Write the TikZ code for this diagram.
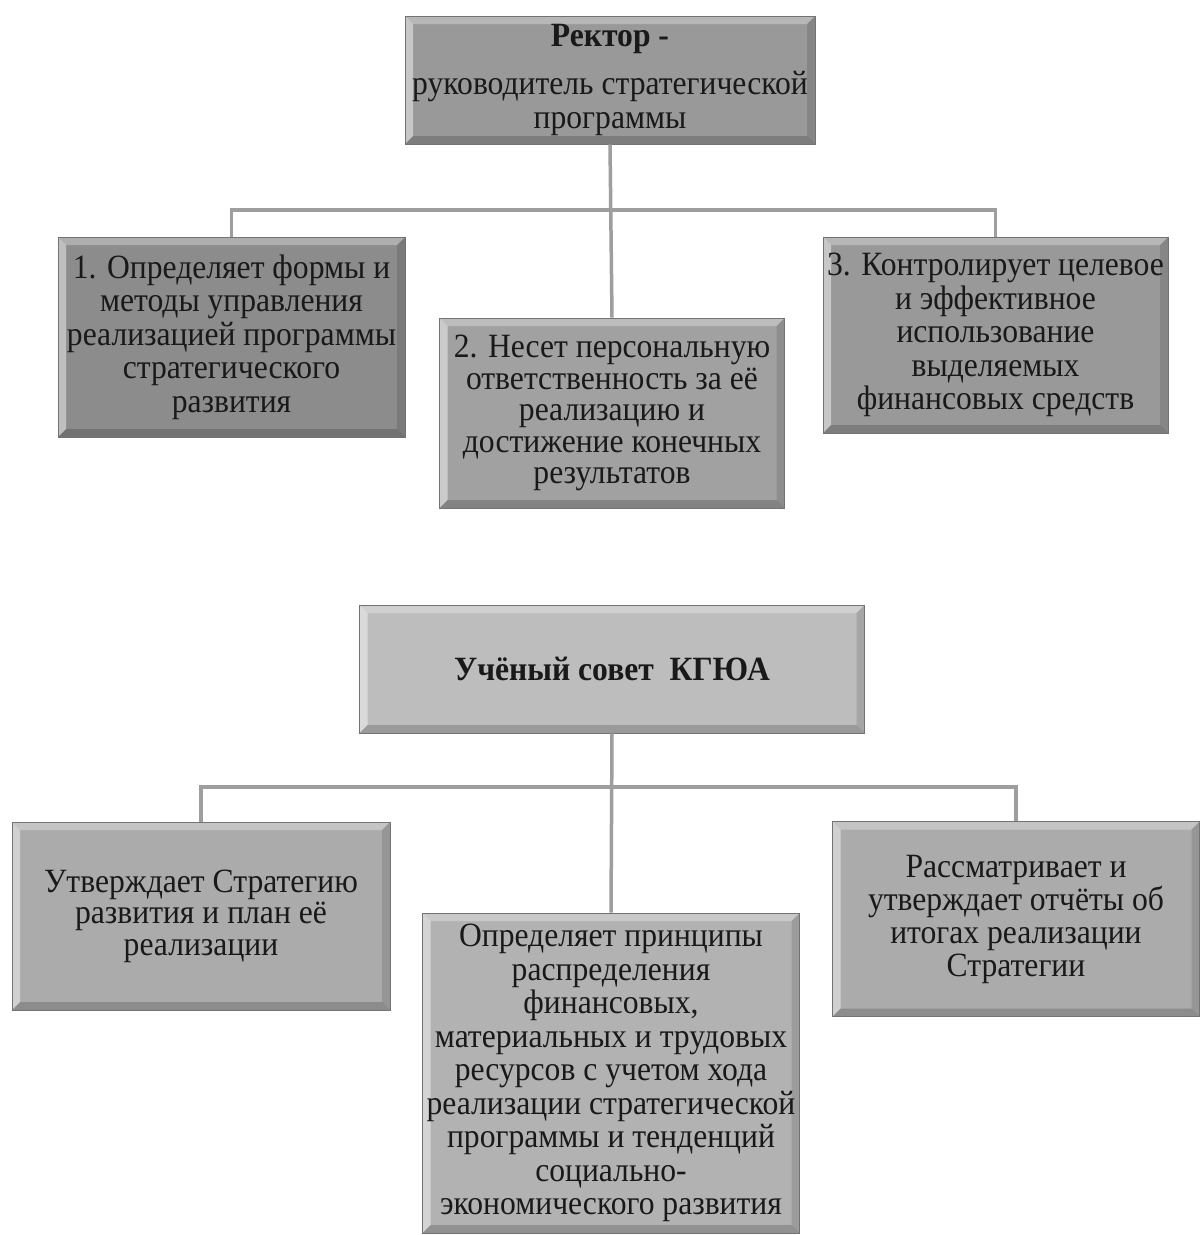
\documentclass[tikz,border=0pt]{standalone}
\usepackage{fontspec}
\setmainfont{Liberation Serif}[FakeStretch=0.93]
\begin{document}
\begin{tikzpicture}[x=1pt,y=-1pt,
  bevel/.style={path picture={
    \coordinate (ppnw) at (path picture bounding box.north west);
    \coordinate (ppne) at (path picture bounding box.north east);
    \coordinate (ppsw) at (path picture bounding box.south west);
    \coordinate (ppse) at (path picture bounding box.south east);
    \fill[white,opacity=.30] (ppnw) -- (ppne) -- ([shift={(-8pt,-8pt)}]ppne) -- ([shift={(8pt,-8pt)}]ppnw) -- cycle;
    \fill[white,opacity=.45] (ppnw) -- ([shift={(8pt,-8pt)}]ppnw) -- ([shift={(8pt,8pt)}]ppsw) -- (ppsw) -- cycle;
    \fill[black,opacity=.18] (ppse) -- (ppsw) -- ([shift={(8pt,8pt)}]ppsw) -- ([shift={(-8pt,8pt)}]ppse) -- cycle;
    \fill[black,opacity=.12] (ppne) -- (ppse) -- ([shift={(-8pt,8pt)}]ppse) -- ([shift={(-8pt,-8pt)}]ppne) -- cycle;
  }},
  box/.style={draw=black!55, line width=0.8pt, bevel, rectangle, inner sep=0pt,
    align=center, text=black!90, font=\fontsize{34}{33.5}\selectfont},
  link/.style={draw=black!38, line width=3.5pt}
]
\useasboundingbox[fill=white] (0,0) rectangle (1200,1235);

% top group
\node[box, fill=black!40, minimum width=410, minimum height=128, font=\fontsize{34}{34}\selectfont] (rector) at (610,80)
  {{\bfseries Ректор -}\\[14pt]руководитель стратегической\\программы};
\node[box, fill=black!45, minimum width=347, minimum height=200] (b1) at (231.5,337)
  {1. Определяет формы и\\методы управления\\реализацией программы\\стратегического\\развития};
\node[box, fill=black!37, minimum width=345, minimum height=190, font=\fontsize{34}{31.5}\selectfont] (b2) at (612,413)
  {2. Несет персональную\\ответственность за её\\реализацию и\\достижение конечных\\результатов};
\node[box, fill=black!40, minimum width=345, minimum height=196] (b3) at (995.5,335)
  {3. Контролирует целевое\\и эффективное\\использование\\выделяемых\\финансовых средств};

\coordinate (j1) at (612,210);
\draw[link] (rector.south) -- (b2.north);
\draw[link] (b1.north) |- (j1) -| (b3.north);

% bottom group
\node[box, fill=black!26, minimum width=505, minimum height=128, font=\bfseries\fontsize{34}{34}\selectfont] (council) at (612,669)
  {Учёный совет\ \ КГЮА};
\node[box, fill=black!33, minimum width=378, minimum height=188, font=\fontsize{34}{31.5}\selectfont] (bl) at (201,916)
  {Утверждает Стратегию\\развития и план её\\реализации};
\node[box, fill=black!30, minimum width=377, minimum height=320] (bm) at (611,1073)
  {Определяет принципы\\распределения\\финансовых,\\материальных и трудовых\\ресурсов с учетом хода\\реализации стратегической\\программы и тенденций\\социально-\\экономического развития};
\node[box, fill=black!33, minimum width=367, minimum height=195, font=\fontsize{34}{33}\selectfont] (br) at (1016,919)
  {Рассматривает и\\утверждает отчёты об\\итогах реализации\\Стратегии};

\coordinate (j2) at (611,787);
\draw[link] (council.south) -- (bm.north);
\draw[link] (bl.north) |- (j2) -| (br.north);
\end{tikzpicture}
\end{document}
